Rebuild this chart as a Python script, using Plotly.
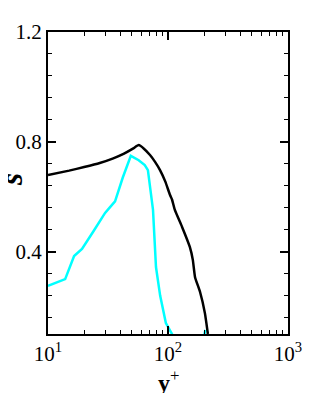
import plotly.graph_objects as go

# Black curve
black_x = [10, 15, 20, 27, 35, 43, 51, 57, 63, 70.8, 78, 85.8, 95, 104, 108, 114, 131, 152, 161, 168, 185, 203, 215]
black_y = [0.679, 0.695, 0.708, 0.723, 0.740, 0.757, 0.775, 0.788, 0.775, 0.752, 0.727, 0.697, 0.655, 0.606, 0.59, 0.552, 0.49, 0.417, 0.37, 0.307, 0.253, 0.176, 0.10]

# Cyan curve
cyan_x = [10, 13.9, 16.5, 19.2, 24.0, 29.9, 32.9, 36.2, 42.0, 49.0, 57.0, 64.0, 68.0, 72.0, 75.0, 79.4, 86.0, 96.0, 108.0, 130.0, 190.0, 205.0]
cyan_y = [0.275, 0.30, 0.384, 0.41, 0.475, 0.541, 0.562, 0.583, 0.67, 0.749, 0.733, 0.715, 0.697, 0.62, 0.552, 0.344, 0.24, 0.14, 0.10, 0.0, 0.05, 0.115]

x_tickvals = [10, 100, 1000]
x_ticktext = ["10<sup>1</sup>", "10<sup>2</sup>", "10<sup>3</sup>"]
x_minor = [m * 10 ** d for d in (1, 2) for m in range(2, 10)]
y_tickvals = [0.4, 0.8, 1.2]
y_ticktext = ["0.4", "0.8", "1.2"]
x_title = "<b>y</b><sup>+</sup>"
y_title = "<b><i>s</i></b>"

font_family = "Liberation Serif"

fig = go.Figure()
fig.add_trace(go.Scatter(x=cyan_x, y=cyan_y, mode="lines",
                         line=dict(color="#00FFFF", width=2.5), showlegend=False))
fig.add_trace(go.Scatter(x=black_x, y=black_y, mode="lines",
                         line=dict(color="black", width=2.5, shape="spline", smoothing=0.4),
                         showlegend=False))

# page body has an 8px default margin, so the figure is offset by 8px
fig.update_layout(
    width=306, height=385,
    margin=dict(l=40, r=26, t=24, b=59, autoexpand=False),
    paper_bgcolor="white", plot_bgcolor="white",
    font=dict(family=font_family, color="black", size=20),
)
fig.update_xaxes(
    type="log", range=[1, 3], automargin=False,
    tickmode="array", tickvals=x_tickvals, ticktext=x_ticktext,
    ticks="inside", ticklen=8, tickwidth=1.5, tickcolor="black",
    showline=True, linecolor="black", linewidth=2, mirror="allticks",
    showgrid=False, zeroline=False,
    minor=dict(tickmode="array", tickvals=x_minor, ticks="inside", ticklen=4,
               tickwidth=1, tickcolor="black", showgrid=False),
    tickfont=dict(size=21, family=font_family),
)
fig.update_yaxes(
    range=[0.1, 1.2], automargin=False,
    tickmode="array", tickvals=y_tickvals, ticktext=y_ticktext,
    ticks="inside", ticklen=8, tickwidth=1.5, tickcolor="black",
    showline=True, linecolor="black", linewidth=2, mirror="allticks",
    showgrid=False, zeroline=False,
    minor=dict(tick0=0, dtick=0.08, ticks="inside", ticklen=4,
               tickwidth=1, tickcolor="black", showgrid=False),
    tickfont=dict(size=21, family=font_family),
)
fig.add_annotation(text=x_title, xref="paper", yref="paper", x=0.5, y=-0.155,
                   xanchor="center", yanchor="middle", showarrow=False,
                   font=dict(size=24, family=font_family))
fig.add_annotation(text=y_title, xref="paper", yref="paper", x=-0.15, y=0.51,
                   xanchor="center", yanchor="middle", showarrow=False, textangle=-90,
                   font=dict(size=31, family=font_family))

fig.write_html("out.html")
